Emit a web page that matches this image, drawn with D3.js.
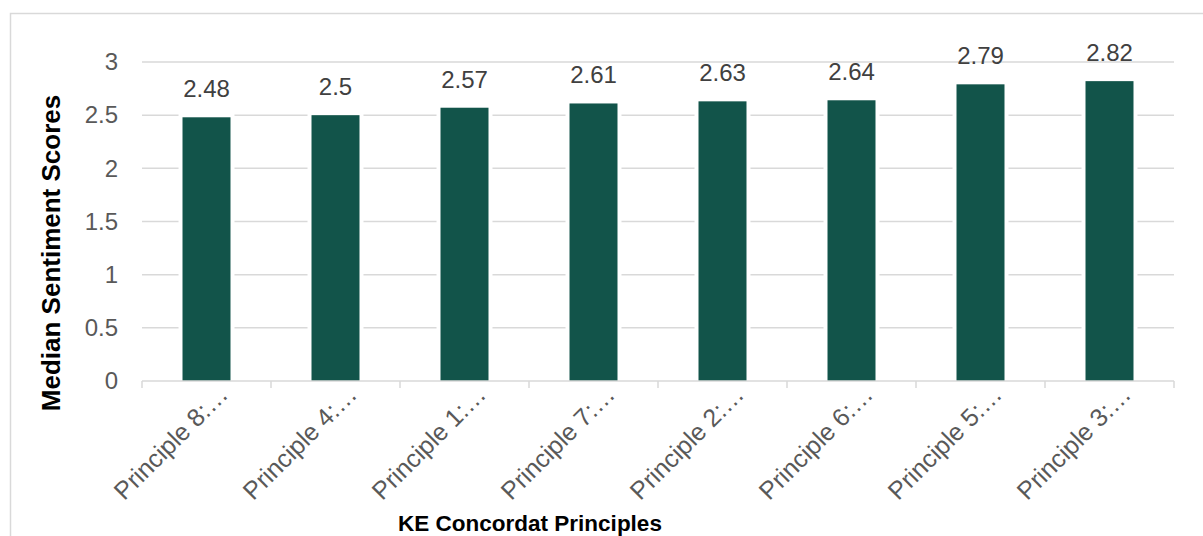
<!DOCTYPE html>
<html>
<head>
<meta charset="utf-8">
<script src="https://cdn.jsdelivr.net/npm/d3@7/dist/d3.min.js"></script>
<style>
  html, body { margin: 0; padding: 0; background: #fff; }
  svg { display: block; font-family: "Liberation Sans", Arial, sans-serif; }
</style>
</head>
<body>
<svg id="chart" width="1203" height="536"></svg>
<script>
// Median sentiment score per KE Concordat principle
const categories = ["Principle 8:…", "Principle 4:…", "Principle 1:…", "Principle 7:…",
                    "Principle 2:…", "Principle 6:…", "Principle 5:…", "Principle 3:…"];
const medianScores = [2.48, 2.5, 2.57, 2.61, 2.63, 2.64, 2.79, 2.82];
const yTicks = [0, 0.5, 1, 1.5, 2, 2.5, 3];
const xTitle = "KE Concordat Principles";
const yTitle = "Median Sentiment Scores";

const svg = d3.select("#chart");
const plot = { left: 142, right: 1174, top: 62, bottom: 381 };

// outer chart frame
svg.append("rect")
  .attr("x", 10.5).attr("y", 13.5)
  .attr("width", 1220).attr("height", 560)
  .attr("fill", "#fff").attr("stroke", "#d9d9d9").attr("stroke-width", 1.5);

const x = d3.scaleBand()
  .domain(categories)
  .range([plot.left, plot.right])
  .paddingInner(0.628)
  .paddingOuter(0.314);

const y = d3.scaleLinear().domain([0, 3]).range([plot.bottom, plot.top]);

// horizontal gridlines
svg.append("g")
  .selectAll("line")
  .data(yTicks.filter(d => d > 0))
  .join("line")
  .attr("x1", plot.left).attr("x2", plot.right)
  .attr("y1", d => y(d)).attr("y2", d => y(d))
  .attr("stroke", "#d9d9d9").attr("stroke-width", 1.5);

// y tick labels
const yAxis = svg.append("g")
  .attr("transform", `translate(${plot.left},0)`)
  .call(d3.axisLeft(y).tickValues(yTicks).tickSize(0).tickPadding(24).tickFormat(d => String(d)));
yAxis.select(".domain").remove();
yAxis.selectAll("text")
  .attr("fill", "#595959")
  .style("font-size", "24px")
  .style("font-family", "'Liberation Sans', Arial, sans-serif");

// bars: white halo then fill
const step = x.step();
const bars = svg.append("g");
bars.selectAll("rect.halo")
  .data(medianScores)
  .join("rect")
  .attr("class", "halo")
  .attr("x", (d, i) => x(categories[i]) - 4)
  .attr("y", d => y(d) - 4)
  .attr("width", x.bandwidth() + 8)
  .attr("height", d => y(0) - y(d) + 4)
  .attr("fill", "#fff");
bars.selectAll("rect.bar")
  .data(medianScores)
  .join("rect")
  .attr("class", "bar")
  .attr("x", (d, i) => x(categories[i]))
  .attr("y", d => y(d))
  .attr("width", x.bandwidth())
  .attr("height", d => y(0) - y(d))
  .attr("fill", "#12544a");

// value labels
svg.append("g")
  .selectAll("text")
  .data(medianScores)
  .join("text")
  .attr("x", (d, i) => x(categories[i]) + x.bandwidth() / 2)
  .attr("y", d => y(d) - 20)
  .attr("text-anchor", "middle")
  .attr("fill", "#404040")
  .style("font-size", "24px")
  .text(d => String(d));

// x axis baseline with category boundary ticks
const xAxisG = svg.append("g");
xAxisG.append("line")
  .attr("x1", plot.left).attr("x2", plot.right)
  .attr("y1", y(0)).attr("y2", y(0))
  .attr("stroke", "#d9d9d9").attr("stroke-width", 1.5);
xAxisG.selectAll("line.tick")
  .data(d3.range(categories.length + 1))
  .join("line")
  .attr("class", "tick")
  .attr("x1", i => plot.left + i * step).attr("x2", i => plot.left + i * step)
  .attr("y1", y(0)).attr("y2", y(0) + 7)
  .attr("stroke", "#d9d9d9").attr("stroke-width", 1.5);

// rotated category labels
xAxisG.selectAll("text")
  .data(categories)
  .join("text")
  .attr("transform", d => `translate(${x(d) + x.bandwidth() / 2 + 23},${y(0) + 15}) rotate(-45)`)
  .attr("text-anchor", "end")
  .attr("fill", "#595959")
  .style("font-size", "25px")
  .text(d => d);

// axis titles
svg.append("text")
  .attr("x", 530).attr("y", 531)
  .attr("text-anchor", "middle")
  .attr("font-weight", "bold")
  .attr("fill", "#000")
  .style("font-size", "22.5px")
  .text(xTitle);

svg.append("text")
  .attr("transform", "translate(60,253) rotate(-90)")
  .attr("text-anchor", "middle")
  .attr("font-weight", "bold")
  .attr("fill", "#000")
  .style("font-size", "26px")
  .text(yTitle);
</script>
</body>
</html>
